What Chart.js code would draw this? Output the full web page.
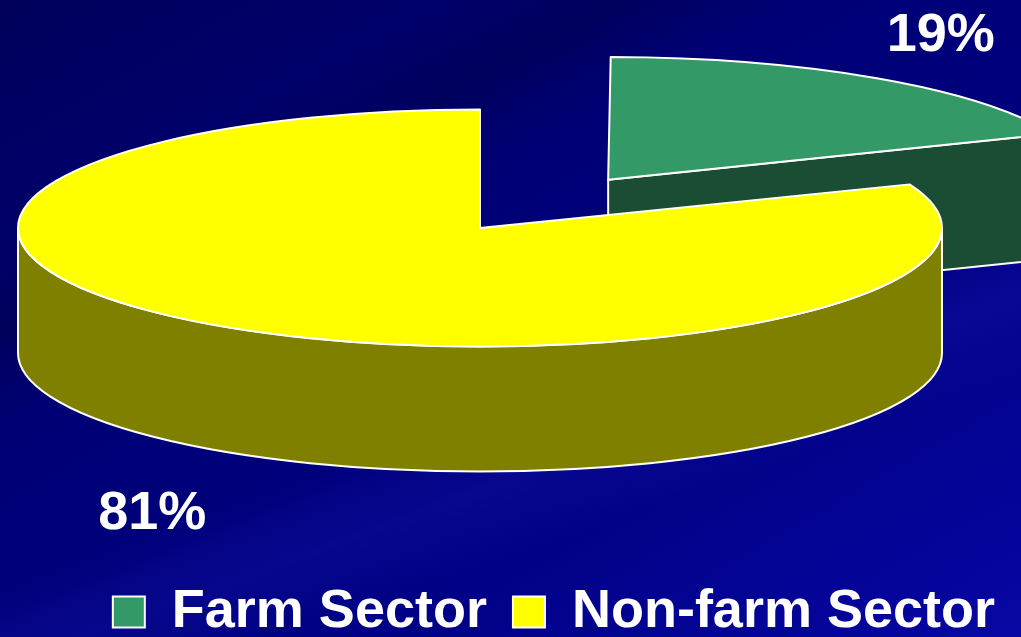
<!DOCTYPE html>
<html>
<head>
<meta charset="utf-8">
<title>Farm vs Non-farm Sector</title>
<script src="https://cdn.jsdelivr.net/npm/chart.js@4.4.1/dist/chart.umd.min.js"></script>
<style>
  html, body {
    margin: 0;
    padding: 0;
    width: 1021px;
    height: 637px;
    overflow: hidden;
  }
  body {
    background:
      linear-gradient(160deg, rgba(0,0,0,0) 58%, rgba(40,40,210,0.18) 66%, rgba(0,0,0,0) 74%),
      linear-gradient(152deg, rgba(0,0,0,0) 20%, rgba(0,0,40,0.25) 28%, rgba(0,0,0,0) 36%),
      linear-gradient(150deg, #00005c 0%, #000074 35%, #000082 65%, #0707a4 100%);
  }
  #wrap {
    position: relative;
    width: 1021px;
    height: 637px;
  }
</style>
</head>
<body>
<div id="wrap"><canvas id="sectorPie"></canvas></div>
<script>
// data
const sectors = ["Farm Sector", "Non-farm Sector"];
const shares = [19, 81];

// slice colours: top face and the darker wall below it
const topColors = ["#339966", "#ffff00"];
const sideColors = ["#1b4d35", "#808000"];

// 3d look of the pie
const PIE_CX = 480;     // screen x of the pie centre
const PIE_CY = 228;     // screen y of the pie centre
const ZOOM = 4;         // chart.js lays the pie out small, we blow it up
const TILT = 0.2565;    // vertical squash of the top face
const DEPTH = 125;      // thickness of the pie
const FONT = '"Liberation Sans", Arial, sans-serif';

function midAngle(arc) {
  return (arc.startAngle + arc.endAngle) / 2;
}

// screen geometry of a slice top, following what ArcElement.draw does with `offset`
function sliceGeom(arc) {
  const shift = (arc.options.offset || 0) / 4;
  const fix = 1 - Math.sin(Math.min(Math.PI, arc.circumference || 0));
  const grow = shift * fix;
  const R = arc.outerRadius + grow;
  const alpha = arc.endAngle - arc.startAngle;
  const beta = Math.max(0.001, alpha * R - grow / Math.PI) / R;
  const trim = (alpha - beta) / 2;
  const m = midAngle(arc);
  return {
    x: PIE_CX + Math.cos(m) * shift * ZOOM,
    y: PIE_CY + Math.sin(m) * shift * ZOOM * TILT,
    r: R * ZOOM,
    s: arc.startAngle + trim,
    e: arc.endAngle - trim
  };
}

function drawSides(ctx, arc, color) {
  const g = sliceGeom(arc);
  const ry = g.r * TILT;

  ctx.save();
  ctx.fillStyle = color;
  ctx.strokeStyle = "#ffffff";
  ctx.lineWidth = 2;
  ctx.lineJoin = "round";

  // cut faces that turn towards the viewer
  [[g.s, Math.cos(g.s) < -0.02], [g.e, Math.cos(g.e) > 0.02]].forEach(([a, visible]) => {
    if (!visible) return;
    const px = g.x + g.r * Math.cos(a);
    const py = g.y + ry * Math.sin(a);
    ctx.beginPath();
    ctx.moveTo(g.x, g.y);
    ctx.lineTo(px, py);
    ctx.lineTo(px, py + DEPTH);
    ctx.lineTo(g.x, g.y + DEPTH);
    ctx.closePath();
    ctx.fill();
    ctx.stroke();
  });

  // outer rim, front half only
  for (let k = -1; k <= 2; k++) {
    const lo = Math.max(g.s, 2 * Math.PI * k);
    const hi = Math.min(g.e, 2 * Math.PI * k + Math.PI);
    if (hi <= lo) continue;
    ctx.beginPath();
    ctx.ellipse(g.x, g.y, g.r, ry, 0, lo, hi, false);
    ctx.lineTo(g.x + g.r * Math.cos(hi), g.y + ry * Math.sin(hi) + DEPTH);
    ctx.ellipse(g.x, g.y + DEPTH, g.r, ry, 0, hi, lo, true);
    ctx.closePath();
    ctx.fill();
    ctx.stroke();
  }
  ctx.restore();
}

const pie3d = {
  id: "pie3d",
  beforeDatasetsDraw(chart) {
    const ctx = chart.ctx;
    const arcs = chart.getDatasetMeta(0).data;

    // walls first, back slices before front ones
    arcs
      .map((arc, i) => i)
      .sort((a, b) => Math.sin(midAngle(arcs[a])) - Math.sin(midAngle(arcs[b])))
      .forEach((i) => drawSides(ctx, arcs[i], sideColors[i]));

    // enlarge and squash the flat pie into the tilted top face
    ctx.save();
    ctx.translate(PIE_CX, PIE_CY);
    ctx.scale(ZOOM, ZOOM * TILT);
    ctx.translate(-arcs[0].x, -arcs[0].y);
  },
  afterDatasetsDraw(chart) {
    const ctx = chart.ctx;
    ctx.restore();

    const arcs = chart.getDatasetMeta(0).data;
    const values = chart.data.datasets[0].data;
    const total = values.reduce((a, b) => a + b, 0);

    // white outline of the top faces, drawn unsquashed so it keeps its width
    ctx.save();
    ctx.strokeStyle = "#ffffff";
    ctx.lineWidth = 2;
    ctx.lineJoin = "round";
    arcs.forEach((arc) => {
      const g = sliceGeom(arc);
      ctx.beginPath();
      ctx.moveTo(g.x, g.y);
      ctx.ellipse(g.x, g.y, g.r, g.r * TILT, 0, g.s, g.e, false);
      ctx.closePath();
      ctx.stroke();
    });

    // percentage labels just outside each slice
    ctx.fillStyle = "#ffffff";
    ctx.font = "bold 54px " + FONT;
    ctx.textAlign = "center";
    ctx.textBaseline = "middle";
    arcs.forEach((arc, i) => {
      const g = sliceGeom(arc);
      const m = midAngle(arc);
      const front = Math.sin(m) > 0;
      let x = g.x + g.r * Math.cos(m);
      let y = g.y + g.r * TILT * Math.sin(m);
      x += Math.sign(Math.cos(m)) * (front ? 68 : 64);
      y += front ? DEPTH + 63 : -42;
      ctx.fillText(Math.round((values[i] / total) * 100) + "%", x, y);
    });
    ctx.restore();
  }
};

new Chart(document.getElementById("sectorPie"), {
  type: "pie",
  data: {
    labels: sectors,
    datasets: [
      {
        data: shares,
        backgroundColor: topColors,
        borderWidth: 0,
        offset: [228, 0],
        hoverOffset: 0,
        radius: 115.5,
        clip: false
      }
    ]
  },
  options: {
    responsive: true,
    maintainAspectRatio: false,
    animation: false,
    layout: { padding: { bottom: -12 } },
    plugins: {
      tooltip: { enabled: false },
      legend: {
        position: "bottom",
        align: "end",
        labels: {
          color: "#ffffff",
          boxWidth: 32,
          boxHeight: 31,
          padding: 26,
          font: { family: FONT, size: 54, weight: "bold" },
          generateLabels(chart) {
            const items = Chart.overrides.doughnut.plugins.legend.labels.generateLabels(chart);
            items.forEach((item) => {
              item.strokeStyle = "#ffffff";
              item.lineWidth = 2;
            });
            return items;
          }
        }
      }
    }
  },
  plugins: [pie3d]
});
</script>
</body>
</html>
